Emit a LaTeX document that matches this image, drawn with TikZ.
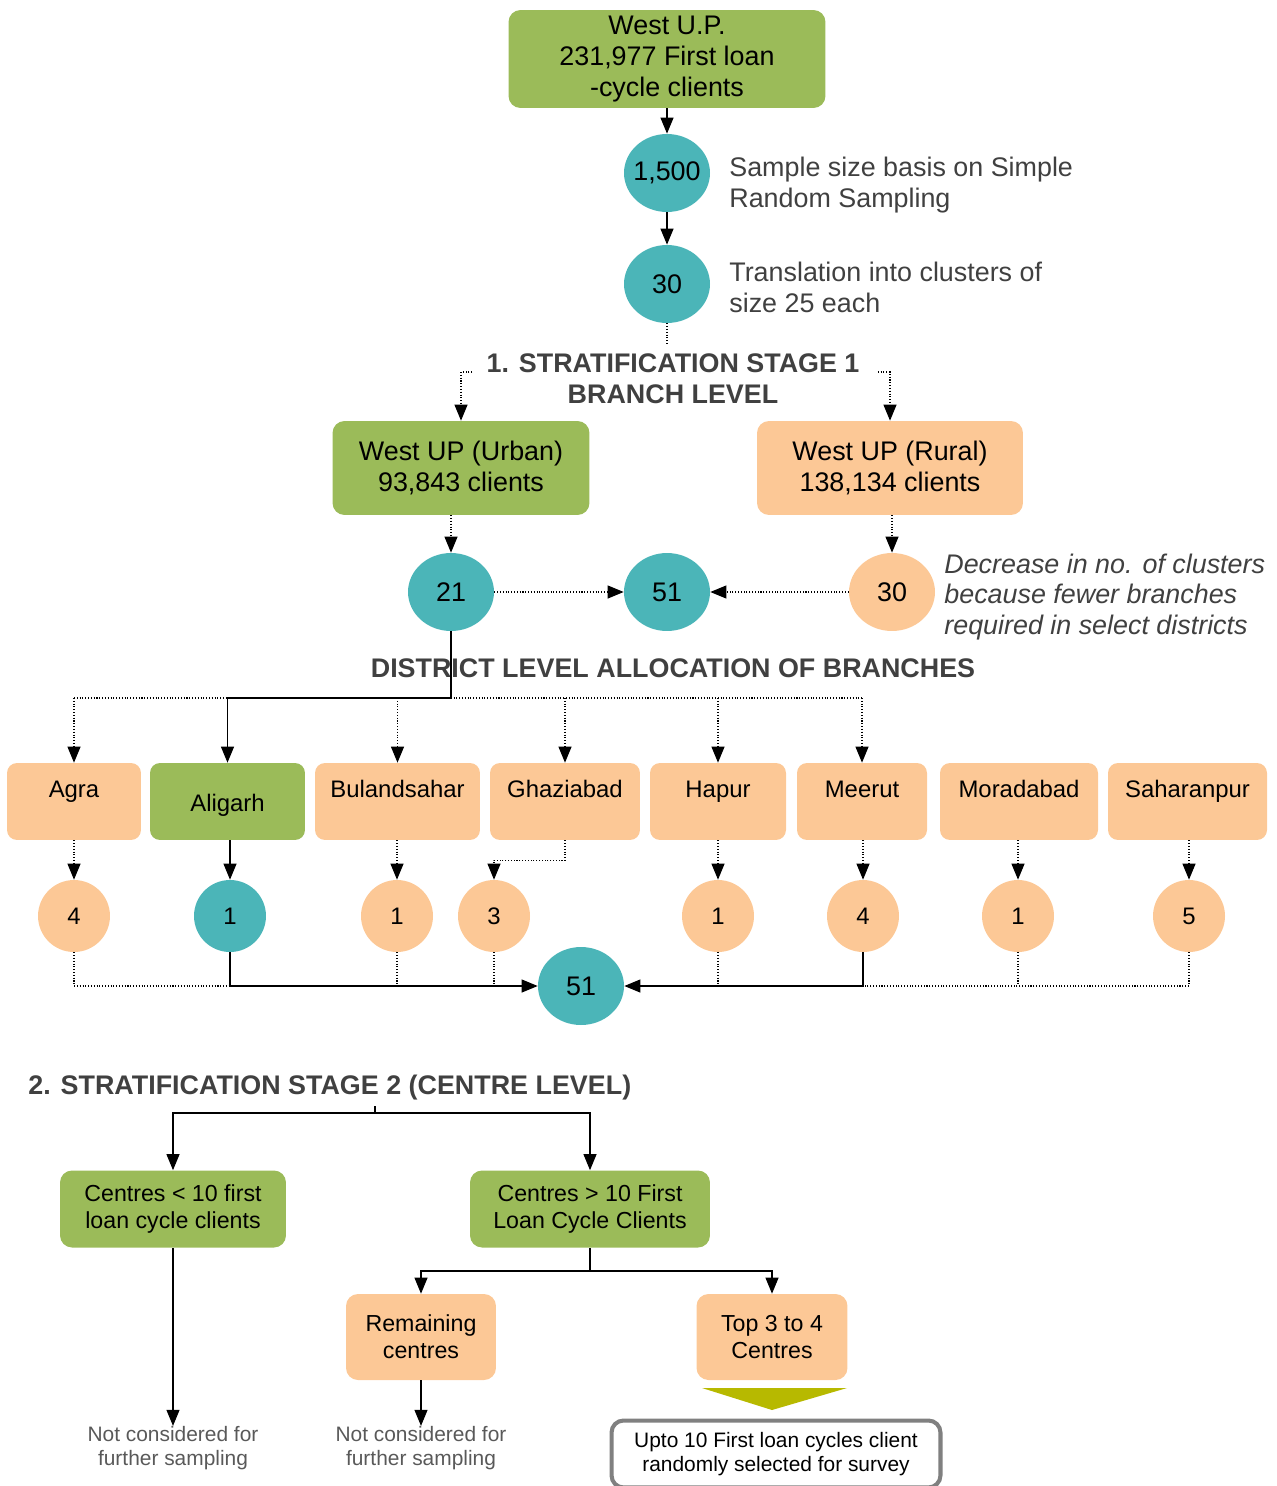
\documentclass[tikz,border=0pt]{standalone}
\usepackage{fontspec}
\setmainfont{Liberation Sans}
\usetikzlibrary{arrows.meta}
\usetikzlibrary{shapes.geometric}

\definecolor{boxGreen}{RGB}{155,187,89}
\definecolor{boxOrange}{RGB}{252,200,150}
\definecolor{clusterTeal}{RGB}{75,181,184}
\definecolor{noteGray}{RGB}{64,64,64}
\definecolor{dropGray}{RGB}{89,89,89}
\definecolor{frameGray}{RGB}{128,128,128}
\definecolor{funnelOlive}{RGB}{183,185,0}

\newcommand\bigText{\fontsize{15.3}{17.6}\selectfont}
\newcommand\midText{\fontsize{13.6}{15.8}\selectfont}
\newcommand\centreText{\fontsize{13.2}{15.4}\selectfont}
\newcommand\smallText{\fontsize{11.9}{13.7}\selectfont}

\tikzset{
	every node/.style={inner sep=0pt, text=black},
	greenBox/.style={rectangle, rounded corners=0.24cm, fill=boxGreen, align=center, font=\bigText},
	orangeBox/.style={greenBox, fill=boxOrange},
	bigCluster/.style={ellipse, minimum width=1.72cm, minimum height=1.56cm, fill=clusterTeal, font=\bigText},
	smallCluster/.style={circle, minimum size=1.44cm, fill=boxOrange, font=\midText},
	districtBox/.style={rectangle, rounded corners=0.2cm, minimum height=1.54cm, fill=boxOrange, font=\midText, text height=0.4cm, text depth=0.58cm},
	noteText/.style={anchor=west, align=left, text=noteGray, font=\bigText},
	headText/.style={align=center, inner ysep=0.16cm, text=noteGray, font=\bigText\bfseries},
	dropText/.style={align=center, text=dropGray, font=\smallText},
	solidLine/.style={line width=0.6pt},
	dotLine/.style={solidLine, densely dotted},
	solidArrow/.style={solidLine, -{Triangle[length=0.32cm,width=0.26cm]}},
	dotArrow/.style={solidArrow, densely dotted}
}

\begin{document}
\begin{tikzpicture}[x=0.02cm, y=-0.02cm]
	\useasboundingbox (0,0) rectangle (1276,1486);

	% sample size
	\node[greenBox, minimum width=6.34cm, minimum height=1.96cm] (westUP) at (667,59) {West U.P.\\231,977 First loan\\-cycle clients};
	\node[bigCluster, inner xsep=-0.1cm] (sample) at (667,173) {1,500};
	\node[bigCluster] (clusters) at (667,284) {30};
	\node[noteText] (sampleNote) at (729,185) {Sample size basis on Simple\\Random Sampling};
	\node[noteText] (clusterNote) at (729,287) {Translation into clusters of\\size 25 each};
	\draw[solidArrow] (westUP) -- (sample);
	\draw[solidArrow] (sample) -- (clusters);

	% stage 1
	\node[headText] (stageOne) at (673,379) {1. STRATIFICATION STAGE 1\\BRANCH LEVEL};
	\draw[dotLine] (clusters) -- (clusters |- stageOne.north);
	\node[greenBox, minimum width=5.14cm, minimum height=1.88cm] (urban) at (461,468) {West UP (Urban)\\93,843 clients};
	\node[orangeBox, minimum width=5.32cm, minimum height=1.88cm] (rural) at (890,468) {West UP (Rural)\\138,134 clients};
	\draw[dotArrow] ([xshift=-0.28cm, yshift=0.14cm]stageOne.west) -| (urban);
	\draw[dotArrow] ([xshift=0.36cm, yshift=0.14cm]stageOne.east) -| (rural);

	\node[bigCluster] (urbanCount) at (451,592) {21};
	\node[bigCluster] (branchCount) at (667,592) {51};
	\node[bigCluster, fill=boxOrange] (ruralCount) at (892,592) {30};
	\node[noteText, font=\bigText\itshape] (decreaseNote) at (944,597) {Decrease in no. of clusters\\because fewer branches\\required in select districts};
	\draw[dotArrow] (urban.south -| urbanCount) -- (urbanCount);
	\draw[dotArrow] (rural.south -| ruralCount) -- (ruralCount);
	\draw[dotArrow] (urbanCount) -- (branchCount);
	\draw[dotArrow] (ruralCount) -- (branchCount);

	% districts
	\node[headText] (districtHead) at (673,668) {DISTRICT LEVEL ALLOCATION OF BRANCHES};
	\foreach \x/\name/\id/\w in {74/Agra/agra/2.68, 397.5/Bulandsahar/buland/3.3, 565/Ghaziabad/ghazi/3.0, 718/Hapur/hapur/2.72, 862/Meerut/meerut/2.6, 1019/Moradabad/morad/3.16, 1187.5/Saharanpur/sahar/3.18}
		\node[districtBox, minimum width=\w cm] (\id) at (\x,801.5) {\name};
	\node[districtBox, fill=boxGreen, minimum width=3.1cm, text height=0.38cm, text depth=0cm] (aligarh) at (227.5,801.5) {Aligarh};

	\coordinate (split) at (451,698);
	\draw[dotLine] (agra |- split) -- (meerut |- split);
	\draw[solidArrow] (urbanCount) -- (split) -| (aligarh);
	\foreach \id in {agra,buland,ghazi,hapur,meerut}
		\draw[dotArrow] (\id |- split) -- (\id);

	\foreach \x/\n/\id in {74/4/nAgra, 397/1/nBuland, 494/3/nGhazi, 718/1/nHapur, 863/4/nMeerut, 1018/1/nMorad, 1189/5/nSahar}
		\node[smallCluster] (\id) at (\x,916) {\n};
	\node[smallCluster, fill=clusterTeal] (nAligarh) at (230,916) {1};

	\foreach \a/\b in {agra/nAgra, buland/nBuland, hapur/nHapur, meerut/nMeerut, morad/nMorad, sahar/nSahar}
		\draw[dotArrow] (\b |- \a.south) -- (\b);
	\draw[solidArrow] (nAligarh |- aligarh.south) -- (nAligarh);
	\draw[dotArrow] (ghazi.south) -- ++(0,20) -| (nGhazi);

	\node[bigCluster] (total) at (581,986) {51};
	\draw[dotLine] (nAgra) |- (nAligarh |- total);
	\draw[solidArrow] (nAligarh) |- (total);
	\foreach \id in {nBuland,nGhazi,nHapur,nMorad}
		\draw[dotLine] (\id) -- (\id |- total);
	\draw[dotLine] (nSahar) |- (nMeerut |- total);
	\draw[solidArrow] (nMeerut) |- (total);

	% stage 2
	\node[headText, anchor=west] (stageTwo) at (28,1088) {2. STRATIFICATION STAGE 2 (CENTRE LEVEL)};
	\coordinate (tick) at (375,1106);
	\coordinate (split2) at (375,1113);
	\node[greenBox, font=\centreText, minimum width=4.52cm, minimum height=1.54cm] (fewCentres) at (173,1209) {Centres < 10 first\\loan cycle clients};
	\node[greenBox, font=\centreText, minimum width=4.8cm, minimum height=1.54cm] (manyCentres) at (590,1209) {Centres > 10 First\\Loan Cycle Clients};
	\draw[solidLine] (tick) -- (split2);
	\draw[solidArrow] (split2) -| (fewCentres);
	\draw[solidArrow] (split2) -| (manyCentres);

	\node[dropText] (dropFew) at (173,1448) {Not considered for\\further sampling};
	\draw[solidArrow] (fewCentres) -- (dropFew);

	\coordinate (split3) at (590,1271);
	\node[orangeBox, font=\centreText, minimum width=3cm, minimum height=1.72cm] (remaining) at (421,1337) {Remaining\\centres};
	\node[orangeBox, font=\centreText, minimum width=3.02cm, minimum height=1.72cm] (topCentres) at (772,1337) {Top 3 to 4\\Centres};
	\draw[solidLine] (manyCentres) -- (split3);
	\draw[solidArrow] (split3) -| (remaining);
	\draw[solidArrow] (split3) -| (topCentres);

	\node[dropText] (dropRest) at (421,1448) {Not considered for\\further sampling};
	\draw[solidArrow] (remaining) -- (dropRest);

	\fill[funnelOlive] (702,1388) -- (847,1388) -- (772,1410) -- cycle;
	\node[rectangle, rounded corners=0.24cm, draw=frameGray, line width=2.3pt, fill=white, minimum width=6.58cm, minimum height=1.34cm, align=center, font=\smallText] (surveyBox) at (776,1454) {Upto 10 First loan cycles client\\randomly selected for survey};
\end{tikzpicture}
\end{document}
